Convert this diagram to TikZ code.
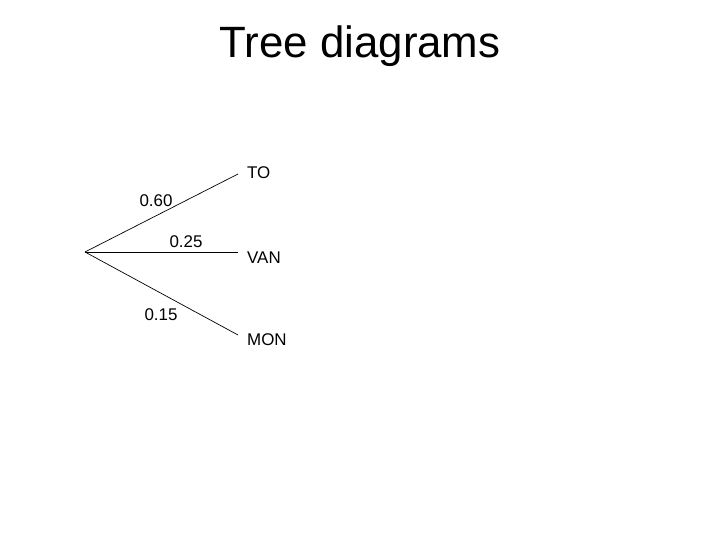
\documentclass[tikz,border=0pt]{standalone}
\usepackage{fontspec}
\setmainfont{Liberation Sans}
\begin{document}
\begin{tikzpicture}[x=1bp,y=-1bp,
  lbl/.style={font=\fontsize{17}{20}\selectfont,inner sep=0pt},
  br/.style={line width=0.7pt}]
\useasboundingbox (0,0) rectangle (720,540);
\node[font=\fontsize{44}{50}\selectfont] (title) at (360,46) {Tree diagrams};
\coordinate (root) at (85,252);
\coordinate (e1) at (238,174);
\coordinate (e2) at (238,252);
\coordinate (e3) at (238,335);
\draw[br] (root) -- (e1);
\draw[br] (root) -- (e2);
\draw[br] (root) -- (e3);
\node[lbl,anchor=west] (to) at (247,173) {TO};
\node[lbl,anchor=west] (van) at (247,258) {VAN};
\node[lbl,anchor=west] (mon) at (247,340) {MON};
\node[lbl] (p1) at (156,201) {0.60};
\node[lbl] (p2) at (186,242) {0.25};
\node[lbl] (p3) at (161,315) {0.15};
\end{tikzpicture}
\end{document}
